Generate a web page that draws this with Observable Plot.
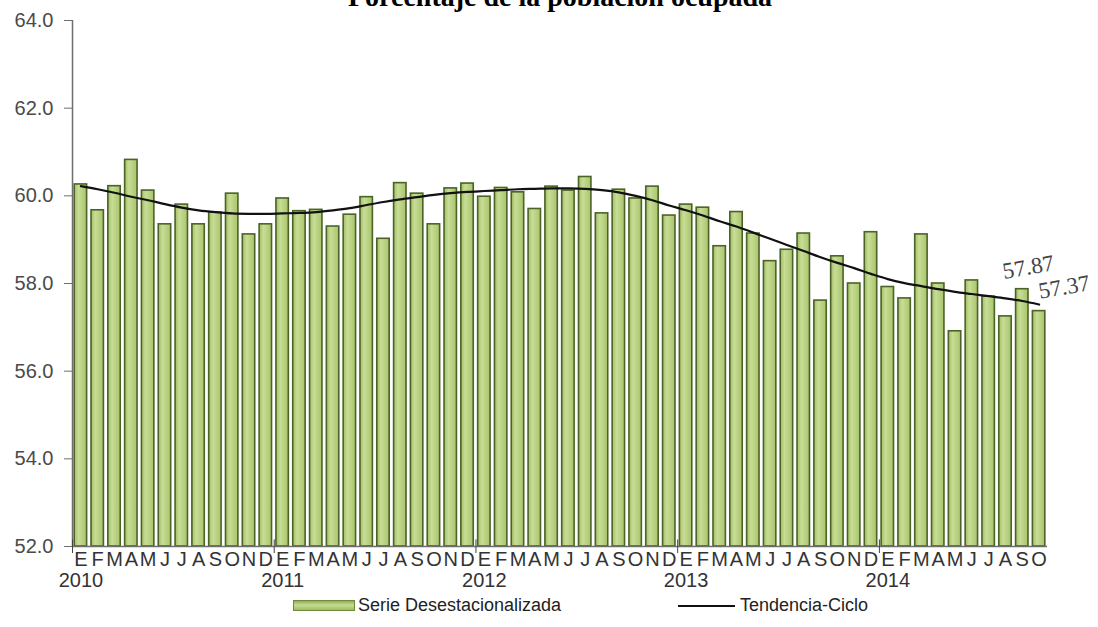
<!DOCTYPE html>
<html>
<head>
<meta charset="utf-8">
<script src="https://cdn.jsdelivr.net/npm/d3@7"></script>
<script src="https://cdn.jsdelivr.net/npm/@observablehq/plot@0.6"></script>
<style>
  html, body { margin: 0; padding: 0; background: #fff; overflow: hidden; }
  #wrap { position: relative; width: 1098px; height: 627px; font-family: "Liberation Sans", Arial, sans-serif; }
  #title { position: absolute; top: -17px; left: 560px; transform: translateX(-50%); white-space: nowrap;
           font: bold 28px/28px "Liberation Serif", "Times New Roman", serif; color: #000; z-index: 2; }
  #legend { position: relative; height: 35px; font-size: 18px; color: #222; }
  #legend .sw { position: absolute; left: 293px; top: 8px; width: 62px; height: 11px;
                background: linear-gradient(to bottom, #8fae55, #c6db92 45%, #9ebd62); border: 1px solid #6f8a3c; box-sizing: border-box; }
  #legend .t1 { position: absolute; left: 358px; top: 3px; line-height: 20px; }
  #legend .ln { position: absolute; left: 678px; top: 13px; width: 57px; height: 2px; background: #111; }
  #legend .t2 { position: absolute; left: 740px; top: 3px; line-height: 20px; }
</style>
</head>
<body>
<div id="wrap">
  <div id="title">Porcentaje de la población ocupada</div>
  <div id="chart"></div>
  <div id="legend">
    <div class="sw"></div><span class="t1">Serie Desestacionalizada</span>
    <div class="ln"></div><span class="t2">Tendencia-Ciclo</span>
  </div>
</div>
<script>
// ---- Data ----
const meses = ["E","F","M","A","M","J","J","A","S","O","N","D"];
const anios = [2010, 2011, 2012, 2013, 2014];
const yTicks = [52, 54, 56, 58, 60, 62, 64];

// Serie desestacionalizada (ene 2010 - oct 2014)
const serie = [
  60.26, 59.67, 60.22, 60.82, 60.12, 59.35, 59.80, 59.35, 59.62, 60.05, 59.12, 59.35,
  59.94, 59.65, 59.68, 59.30, 59.57, 59.97, 59.02, 60.29, 60.05, 59.35, 60.17, 60.28,
  59.98, 60.18, 60.08, 59.70, 60.21, 60.12, 60.43, 59.60, 60.14, 59.94, 60.21, 59.55,
  59.80, 59.73, 58.85, 59.63, 59.14, 58.51, 58.77, 59.14, 57.61, 58.62, 58.00, 59.17,
  57.92, 57.66, 59.12, 58.00, 56.91, 58.07, 57.70, 57.25, 57.87, 57.37
];

// Tendencia-Ciclo
const tendencia = [
  60.22, 60.15, 60.07, 59.98, 59.90, 59.81, 59.73, 59.67, 59.63, 59.60, 59.59, 59.59,
  59.60, 59.61, 59.63, 59.67, 59.72, 59.79, 59.86, 59.92, 59.97, 60.02, 60.06, 60.09,
  60.11, 60.13, 60.15, 60.16, 60.17, 60.17, 60.16, 60.13, 60.08, 60.00, 59.90, 59.78,
  59.67, 59.55, 59.42, 59.30, 59.16, 59.02, 58.88, 58.74, 58.60, 58.47, 58.35, 58.22,
  58.10, 58.01, 57.94, 57.87, 57.81, 57.76, 57.71, 57.66, 57.60, 57.52
];

// ---- Build table ----
const rows = serie.map((v, i) => ({
  i,
  anio: anios[Math.floor(i / 12)],
  mes: meses[i % 12],
  serie: v,
  tendencia: tendencia[i]
}));
const n = rows.length;
const eneros = rows.filter(d => d.i % 12 === 0);
const ultimos = rows.slice(-2);

const gridGray = "#6e6e6e";

const defs = () => {
  const ns = "http://www.w3.org/2000/svg";
  const d = document.createElementNS(ns, "defs");
  d.innerHTML = `<linearGradient id="barGrad" x1="0" x2="1" y1="0" y2="0">
      <stop offset="0" stop-color="#a2bf66"/>
      <stop offset="0.35" stop-color="#c8dd95"/>
      <stop offset="1" stop-color="#a8c46c"/>
    </linearGradient>`;
  return d;
};

const chart = Plot.plot({
  width: 1098,
  height: 592,
  marginLeft: 72,
  marginRight: 51,
  marginTop: 20,
  marginBottom: 46,
  style: { fontFamily: '"Liberation Sans", Arial, sans-serif', fontSize: "20px", color: "#333", background: "#fff" },
  x: { type: "linear", domain: [0, n] },
  y: { domain: [52, 64] },
  marks: [
    defs,
    Plot.rectY(rows, {
      x1: d => d.i, x2: d => d.i + 1, y1: 52, y2: "serie",
      insetLeft: 2.2, insetRight: 2.2,
      fill: "url(#barGrad)", stroke: "#4b6327", strokeWidth: 1.6
    }),
    Plot.line(rows, {
      x: d => d.i + 0.5, y: "tendencia",
      curve: "catmull-rom", stroke: "#111", strokeWidth: 2.2
    }),
    // axes lines
    Plot.ruleX([0], { stroke: gridGray, strokeWidth: 1.5 }),
    Plot.ruleY([52], { stroke: gridGray, strokeWidth: 1.5 }),
    Plot.axisY(yTicks, {
      tickSize: 8, tickPadding: 11, tickFormat: d3.format(".1f"),
      stroke: gridGray, fill: "#4a4a4a", fontSize: 20, label: null
    }),
    // month letters
    Plot.axisX(rows.map(d => d.i + 0.5), {
      tickSize: 0, tickPadding: 5, tickFormat: v => meses[Math.floor(v) % 12],
      fill: "#333", fontSize: 20, label: null
    }),
    // year labels
    Plot.axisX(eneros.map(d => d.i + 0.5), {
      tickSize: 0, tickPadding: 26, tickFormat: v => String(anios[Math.floor(v / 12)]),
      fill: "#333", fontSize: 20, label: null
    }),
    // year separator ticks
    Plot.axisX(eneros.map(d => d.i), {
      tickSize: 7, tickFormat: () => "", stroke: "#444", label: null
    }),
    Plot.ruleX(eneros, { x: d => d.i, y1: 52, y2: 52.15, stroke: "#444" }),
    // value labels
    Plot.text(ultimos.slice(0, 1), {
      x: d => d.i + 0.5, y: "serie", text: d => d.serie.toFixed(2),
      dx: 6, dy: -22, rotate: -10,
      fontFamily: '"Liberation Serif", "Times New Roman", serif', fontSize: 23, fill: "#444"
    }),
    Plot.text(ultimos.slice(1), {
      x: d => d.i + 0.5, y: "serie", text: d => d.serie.toFixed(2),
      dx: 25, dy: -24, rotate: -10,
      fontFamily: '"Liberation Serif", "Times New Roman", serif', fontSize: 23, fill: "#444"
    })
  ]
});

document.getElementById("chart").appendChild(chart);
</script>
</body>
</html>
